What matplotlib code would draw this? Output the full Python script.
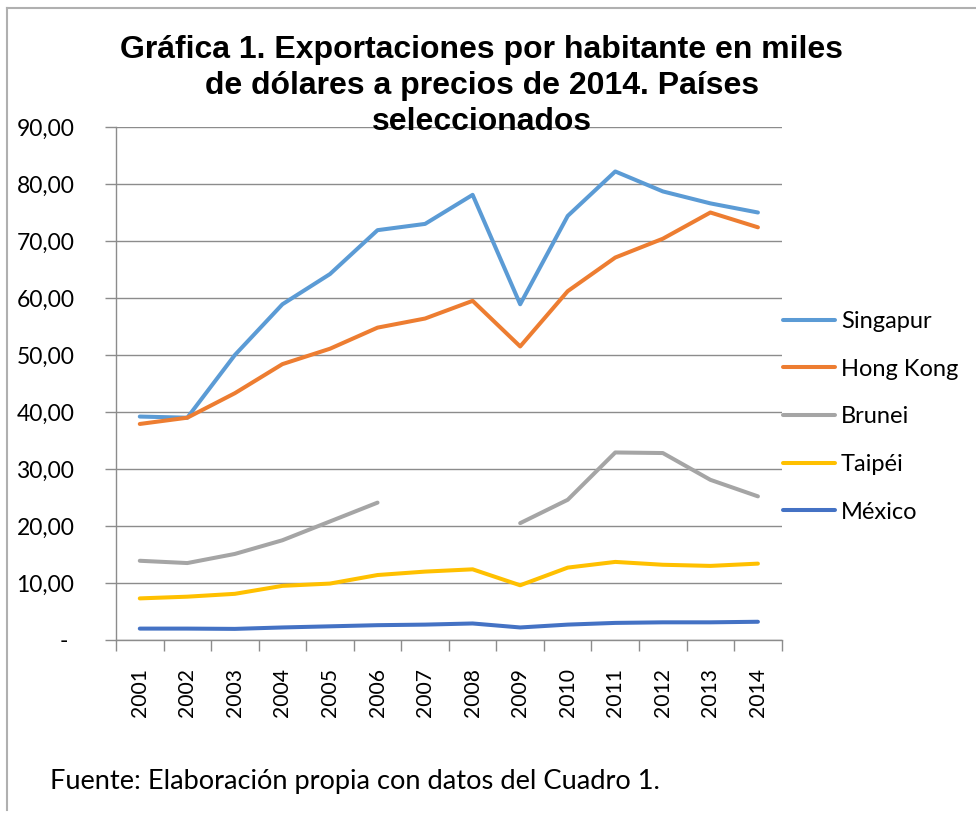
import matplotlib
matplotlib.use("Agg")
from matplotlib import pyplot as plt
from matplotlib.lines import Line2D
from matplotlib.ticker import FuncFormatter, FixedLocator

years = ["2001", "2002", "2003", "2004", "2005", "2006", "2007",
         "2008", "2009", "2010", "2011", "2012", "2013", "2014"]

singapur = [39.2, 39.0, 50.0, 58.9, 64.2, 71.9, 73.0, 78.1, 58.9, 74.4, 82.2, 78.7, 76.6, 75.0]
hong_kong = [37.9, 39.0, 43.3, 48.4, 51.1, 54.8, 56.4, 59.5, 51.5, 61.2, 67.1, 70.4, 75.0, 72.4]
# Brunei has no data for 2007 and 2008
brunei = [13.9, 13.5, 15.1, 17.5, 20.8, 24.1, None, None, 20.5, 24.6, 32.9, 32.8, 28.1, 25.2]
taipei = [7.3, 7.6, 8.1, 9.5, 9.9, 11.4, 12.0, 12.4, 9.6, 12.7, 13.7, 13.2, 13.0, 13.4]
mexico = [2.0, 2.0, 1.95, 2.2, 2.4, 2.6, 2.7, 2.9, 2.2, 2.7, 3.0, 3.1, 3.1, 3.2]

series = [
    ("Singapur", singapur, "#5B9BD5"),
    ("Hong Kong", hong_kong, "#ED7D31"),
    ("Brunei", brunei, "#A5A5A5"),
    ("Taipéi", taipei, "#FFC000"),
    ("México", mexico, "#4472C4"),
]

title = "Gráfica 1. Exportaciones por habitante en miles\nde dólares a precios de 2014. Países\nseleccionados"
footer = "Fuente: Elaboración propia con datos del Cuadro 1."

plt.rcParams["font.family"] = ["Lato", "DejaVu Sans"]
GRID = "#8c8c8c"

fig = plt.figure(figsize=(9.76, 8.16), dpi=100)
ax = fig.add_axes([116 / 976, 1 - 640 / 816, (781.7 - 116) / 976, (640 - 127) / 816])

x = list(range(len(years)))
for name, vals, color in series:
    ys = [float("nan") if v is None else v for v in vals]
    ax.plot(x, ys, color=color, lw=2.9, label=name, solid_capstyle="round",
            solid_joinstyle="round")

ax.set_xlim(-0.5, len(years) - 0.5)
ax.set_ylim(0, 90)
ax.set_yticks(range(0, 91, 10))
ax.yaxis.set_major_formatter(FuncFormatter(
    lambda v, p: "- " if v == 0 else f"{v:.2f}".replace(".", ",")))
ax.grid(axis="y", color=GRID, lw=1)
ax.set_axisbelow(True)

ax.set_xticks(x)
ax.set_xticklabels(years, rotation=90, va="top")
ax.xaxis.set_minor_locator(FixedLocator([i - 0.5 for i in range(len(years) + 1)]))
ax.tick_params(axis="x", which="major", length=0, pad=20, labelsize=15.2)
ax.tick_params(axis="x", which="minor", length=8, color=GRID, width=1)
ax.tick_params(axis="y", length=8, color=GRID, width=1, pad=22, labelsize=16.5)

for s in ("top", "right"):
    ax.spines[s].set_visible(False)
for s in ("left", "bottom"):
    ax.spines[s].set_color(GRID)
    ax.spines[s].set_linewidth(1)

fig.text(482 / 976, 1 - 86 / 816, title, ha="center", va="center",
         fontsize=23, fontweight="bold", family="Liberation Sans",
         linespacing=1.24, zorder=5)

ax.legend(loc="upper left", bbox_to_anchor=(783 / 976, 1 - 311 / 816),
          bbox_transform=fig.transFigure, frameon=False, fontsize=17,
          handlelength=2.2, handletextpad=0.25, labelspacing=1.13,
          borderpad=0, borderaxespad=0)

fig.text(50 / 976, 1 - 782 / 816, footer, ha="left", va="center", fontsize=19.6)

# light frame on top and left edges
fig.add_artist(Line2D([7 / 976, 7 / 976], [1 - 810 / 816, 1 - 8 / 816],
                      transform=fig.transFigure, color="#b0b0b0", lw=1.5))
fig.add_artist(Line2D([7 / 976, 1], [1 - 8 / 816, 1 - 8 / 816],
                      transform=fig.transFigure, color="#b0b0b0", lw=1.5))

fig.savefig("out.png", dpi=100, facecolor="white")
